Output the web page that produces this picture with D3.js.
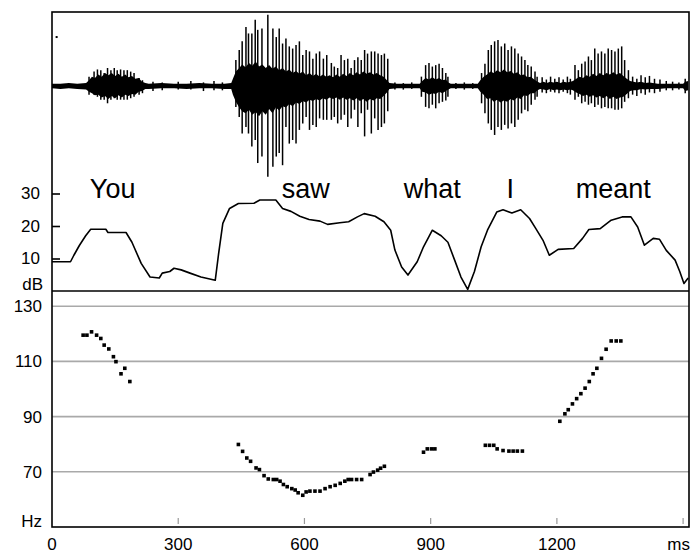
<!DOCTYPE html>
<html>
<head>
<meta charset="utf-8">
<script src="https://cdn.jsdelivr.net/npm/d3@7"></script>
<style>
  body { margin: 0; background: #fff; }
  svg { display: block; font-family: "Liberation Sans", Arial, sans-serif; }
</style>
</head>
<body>
<div id="chart"></div>
<script>
// time axis
const timeTicks = [0, 300, 600, 900, 1200];

// waveform: dense core envelope [ms, top, bottom] and single glottal spikes [ms, top, bottom]
const waveCore = [
  [0, 3, -3], [20, 3, -4], [40, 4, -3], [60, 3, -4], [81, 4, -5],
  [88, 8, -8], [95, 13, -10], [102, 11, -13], [110, 16, -12], [118, 13, -16], [126, 18, -14], [134, 15, -18],
  [142, 18, -14], [150, 14, -17], [158, 17, -13], [166, 13, -16], [174, 16, -12], [182, 12, -14], [190, 14, -11],
  [198, 10, -12], [206, 11, -8], [214, 6, -7], [222, 4, -4],
  [230, 3, -4], [260, 4, -3], [290, 3, -3], [320, 3, -4], [350, 4, -3], [380, 3, -3], [410, 3, -4], [426, 4, -4],
  [430, 10, -12], [437, 20, -22], [445, 25, -30], [452, 30, -35], [460, 26, -38], [468, 32, -33], [476, 28, -40],
  [484, 34, -36], [492, 27, -42], [500, 30, -35], [508, 25, -40], [516, 29, -32], [524, 24, -38], [532, 27, -30],
  [540, 22, -34], [548, 25, -28], [556, 20, -30], [564, 23, -25], [572, 18, -28], [580, 21, -23], [588, 17, -25],
  [596, 20, -21], [604, 15, -23], [612, 18, -19], [620, 14, -21], [628, 17, -18], [636, 13, -20], [644, 16, -17],
  [652, 13, -19], [660, 15, -16], [668, 12, -18], [676, 16, -16], [684, 13, -19], [692, 17, -16], [700, 14, -19],
  [708, 18, -17], [716, 15, -20], [724, 19, -17], [732, 16, -21], [740, 20, -18], [748, 17, -22], [756, 19, -18],
  [764, 16, -20], [772, 18, -17], [780, 15, -18], [788, 13, -14], [796, 8, -9], [802, 4, -4],
  [820, 3, -3], [850, 3, -3], [874, 3, -3],
  [880, 7, -8], [888, 11, -9], [896, 9, -12], [904, 12, -10], [912, 9, -11], [920, 11, -8], [928, 8, -10],
  [936, 9, -7], [942, 5, -5], [948, 3, -3], [970, 3, -3], [990, 3, -3], [1012, 3, -3],
  [1018, 8, -8], [1026, 13, -12], [1034, 16, -18], [1042, 20, -17], [1050, 18, -22], [1058, 22, -19], [1066, 19, -23],
  [1074, 23, -20], [1082, 19, -22], [1090, 21, -18], [1098, 17, -20], [1106, 19, -16], [1114, 15, -18], [1122, 16, -13],
  [1130, 12, -14], [1138, 13, -10], [1146, 9, -10], [1154, 6, -6], [1160, 4, -4],
  [1168, 6, -5], [1176, 4, -6], [1184, 6, -4], [1192, 5, -6], [1200, 6, -5], [1208, 4, -6], [1216, 6, -5],
  [1224, 5, -6], [1232, 6, -5],
  [1238, 7, -6], [1246, 10, -9], [1254, 13, -11], [1262, 11, -14], [1270, 15, -12], [1278, 13, -15], [1286, 17, -13],
  [1294, 14, -16], [1302, 18, -14], [1310, 15, -17], [1318, 18, -14], [1326, 16, -18], [1334, 19, -15], [1342, 16, -18],
  [1350, 18, -16], [1358, 14, -15], [1366, 10, -11], [1374, 7, -7], [1382, 6, -6],
  [1390, 5, -6], [1400, 6, -4], [1410, 4, -5], [1420, 5, -4], [1440, 3, -4], [1460, 3, -3], [1480, 3, -3],
  [1500, 3, -3], [1505, 6, -7], [1512, 7, -6]
];
const spikesYou = [
  [88, 13, -12], [100, 20, -12], [108, 23, -15], [116, 22, -19], [124, 18, -19], [132, 25, -24],
  [140, 22, -19], [148, 25, -17], [155, 22, -19], [163, 23, -19], [171, 22, -19], [179, 22, -19],
  [187, 20, -17], [195, 18, -15], [207, 11, -12], [215, 8, -10]
];
const spikesSaw = [
  [437, 36, -29], [445, 50, -43], [452, 62, -66], [461, 82, -57], [467, 73, -66], [475, 73, -84],
  [483, 92, -75], [489, 78, -107], [499, 80, -98], [513, 99, -126], [525, 80, -112], [533, 68, -98],
  [540, 80, -93], [548, 59, -110], [556, 66, -57], [564, 55, -80], [572, 52, -75], [580, 57, -80],
  [588, 62, -61], [596, 43, -52], [604, 50, -43], [612, 48, -61], [620, 38, -54], [628, 45, -57],
  [636, 48, -45], [645, 38, -47], [653, 43, -47], [664, 32, -47], [671, 27, -43], [679, 25, -52],
  [687, 43, -47], [695, 36, -40], [703, 38, -57], [711, 25, -45], [719, 36, -33], [727, 40, -57],
  [735, 36, -38], [743, 50, -70], [750, 45, -33], [759, 48, -66], [767, 48, -45], [775, 45, -61],
  [783, 43, -57], [790, 45, -52], [798, 38, -35]
];
const spikesWhat = [
  [878, 13, -15], [888, 29, -29], [896, 32, -31], [904, 27, -26], [912, 29, -31], [920, 31, -24],
  [928, 25, -22], [936, 18, -20], [941, 13, -15],
  [1021, 18, -24], [1029, 31, -38], [1037, 50, -52], [1044, 57, -61], [1052, 62, -68], [1060, 64, -57],
  [1068, 55, -61], [1076, 59, -54], [1084, 50, -59], [1092, 55, -52], [1100, 52, -57], [1108, 45, -47],
  [1116, 41, -38], [1124, 36, -33], [1131, 29, -35], [1139, 27, -26], [1148, 20, -19], [1153, 13, -15]
];
const spikesMeant = [
  [1243, 29, -19], [1251, 22, -15], [1259, 31, -24], [1267, 34, -22], [1275, 41, -26], [1282, 36, -24],
  [1290, 52, -29], [1298, 45, -26], [1306, 48, -31], [1314, 45, -29], [1322, 52, -31], [1330, 50, -31],
  [1338, 48, -33], [1346, 52, -33], [1354, 55, -31], [1361, 36, -22], [1370, 22, -17]
];
const spikesNoise = [
  [240, 6, -7], [262, 5, -6], [300, 6, -5], [330, 7, -5], [360, 5, -7], [385, 7, -6], [405, 5, -6],
  [815, 5, -5], [835, 4, -5], [855, 5, -4], [960, 4, -4], [980, 5, -5], [1000, 4, -4],
  [1165, 12, -9], [1175, 9, -10], [1185, 13, -8], [1195, 10, -9], [1205, 12, -10], [1215, 9, -8],
  [1225, 13, -10], [1232, 10, -12],
  [1380, 13, -12], [1390, 10, -14], [1400, 15, -10], [1410, 12, -12], [1420, 14, -9], [1432, 10, -10],
  [1445, 9, -8], [1460, 7, -6], [1475, 6, -6], [1490, 5, -5], [1505, 10, -10]
];

// words
const words = ["You", "saw", "what", "I", "meant"];
const wordStart = [90, 546, 836, 1080, 1245];

// intensity (dB)
const dbTicks = [10, 20, 30];
const intensity = [
  [0, 9], [44, 9], [52, 11], [65, 14], [80, 17], [92, 19], [128, 19], [133, 18], [176, 18], [190, 15],
  [212, 8.5], [233, 4.3], [255, 4], [262, 5.5], [280, 6], [290, 7], [307, 6.5], [328, 5.5], [354, 4.3],
  [388, 3.3], [396, 11.5], [406, 20.8], [422, 25.4], [443, 26.9], [480, 27], [494, 28], [532, 28],
  [548, 25.4], [568, 24.5], [589, 23], [611, 22], [637, 21.5], [655, 20.5], [684, 21], [705, 21.3],
  [726, 22.8], [742, 23.8], [768, 23], [789, 21.3], [805, 18.7], [815, 12.6], [831, 7.4], [846, 4.9],
  [868, 9], [883, 13.6], [904, 18.7], [925, 17], [941, 15], [957, 9.5], [972, 4.3], [988, 0.5],
  [1004, 6], [1020, 13.6], [1035, 18.7], [1057, 24.3], [1072, 25], [1093, 24], [1114, 25], [1135, 22.3],
  [1150, 19.2], [1167, 15.6], [1182, 11], [1203, 12.8], [1240, 13.1], [1261, 16.2], [1276, 18.9],
  [1303, 19.2], [1329, 21.8], [1355, 22.8], [1376, 22.8], [1392, 19.7], [1408, 14.1], [1429, 16.2],
  [1444, 15.9], [1460, 12.5], [1481, 9.5], [1492, 6], [1502, 2.3], [1512, 4]
];

// pitch (Hz)
const hzTicks = [70, 90, 110, 130];
const pitchMs = [
  74, 83, 94, 106, 116, 124, 135, 146, 152, 164, 173, 185,
  443, 453, 463, 472, 485, 493, 504, 514, 526, 534, 542, 550, 559, 570, 578, 585, 596, 604, 613, 625,
  637, 649, 661, 673, 685, 696, 704, 712, 724, 736, 756, 764, 774, 781, 790,
  883, 892, 902, 910,
  1030, 1040, 1050, 1058, 1072, 1086, 1096, 1106, 1118,
  1207, 1219, 1227, 1237, 1247, 1257, 1267, 1277, 1286, 1295, 1306, 1317, 1329, 1341, 1352
];
const pitchHz = [
  119.5, 119.5, 120.7, 119.5, 118.3, 115.9, 114.5, 111.7, 109.9, 105.5, 107.5, 102.7,
  79.9, 77.4, 75, 73.8, 71.4, 70.8, 68.6, 67.4, 67.2, 67.2, 66.6, 65.4, 64.6, 63.9, 63.4, 62.4, 61.5, 62.7, 63, 63,
  63, 63.9, 64.6, 65.1, 65.8, 66.6, 67.2, 67.2, 67.2, 67.2, 69, 69.9, 70.6, 71.3, 72,
  77.1, 78.3, 78.3, 78.3,
  79.6, 79.6, 79.6, 78.3, 77.7, 77.5, 77.5, 77.5, 77.5,
  88.3, 91, 92.5, 94.6, 96.5, 98.3, 100.3, 102.7, 105.5, 107.5, 111.1, 114.4, 117.4, 117.4, 117.4
];

const W = 692, H = 554;
const frame = { left: 52, right: 689, top: 12, bottom: 527 };

const svg = d3.select("#chart").append("svg")
  .attr("width", W).attr("height", H);

const x = d3.scaleLinear().domain([0, 1514]).range([frame.left, frame.right]);
const yWave = d3.scaleLinear().domain([-100, 100]).range([158, 14]);
const yDb = d3.scaleLinear().domain([0, 30]).range([291, 193.5]);
const yHz = d3.scaleLinear().domain([50, 135.5]).range([frame.bottom, 291]);

// pitch grid lines
svg.append("g")
  .selectAll("line")
  .data(hzTicks)
  .enter()
  .append("line")
  .attr("x1", frame.left).attr("x2", frame.right)
  .attr("y1", d => yHz(d)).attr("y2", d => yHz(d))
  .attr("stroke", "#a9a9a9")
  .attr("stroke-width", 1.6);

// waveform core
const coreArea = d3.area()
  .x(d => x(d[0]))
  .y0(d => yWave(d[2]))
  .y1(d => yWave(d[1]));
svg.append("path")
  .datum(waveCore)
  .attr("d", coreArea)
  .attr("fill", "#000");

// waveform spikes
const allSpikes = spikesYou.concat(spikesSaw, spikesWhat, spikesMeant, spikesNoise);
svg.append("g")
  .selectAll("line")
  .data(allSpikes)
  .enter()
  .append("line")
  .attr("x1", d => x(d[0])).attr("x2", d => x(d[0]))
  .attr("y1", d => yWave(d[1])).attr("y2", d => yWave(d[2]))
  .attr("stroke", "#000")
  .attr("stroke-width", 1.5);

// stray dot in the waveform panel
svg.append("rect")
  .attr("x", x(11) - 1).attr("y", yWave(68) - 1)
  .attr("width", 2).attr("height", 2)
  .attr("fill", "#000");

// words
svg.append("g")
  .selectAll("text")
  .data(words)
  .enter()
  .append("text")
  .text(d => d)
  .attr("x", (d, i) => x(wordStart[i]))
  .attr("y", 198)
  .attr("font-size", 27)
  .attr("fill", "#000");

// intensity curve
const dbLine = d3.line()
  .x(d => x(d[0]))
  .y(d => yDb(d[1]));
svg.append("path")
  .datum(intensity)
  .attr("d", dbLine)
  .attr("fill", "none")
  .attr("stroke", "#000")
  .attr("stroke-width", 1.6)
  .attr("stroke-linejoin", "round");

// pitch points
svg.append("g")
  .selectAll("rect")
  .data(pitchMs)
  .enter()
  .append("rect")
  .attr("x", d => x(d) - 1.8)
  .attr("y", (d, i) => yHz(pitchHz[i]) - 1.8)
  .attr("width", 3.6)
  .attr("height", 3.6)
  .attr("fill", "#000");

// frame and panel divider
const frameColor = "#000";
svg.append("rect")
  .attr("x", frame.left).attr("y", frame.top)
  .attr("width", frame.right - frame.left)
  .attr("height", frame.bottom - frame.top)
  .attr("fill", "none")
  .attr("stroke", frameColor)
  .attr("stroke-width", 1.6);
svg.append("line")
  .attr("x1", frame.left).attr("x2", frame.right)
  .attr("y1", yDb(0)).attr("y2", yDb(0))
  .attr("stroke", frameColor)
  .attr("stroke-width", 1.6);

// dB axis
const dbAxis = svg.append("g")
  .attr("transform", `translate(${frame.left},0)`)
  .call(d3.axisLeft(yDb).tickValues(dbTicks).tickSize(-8).tickPadding(12));
dbAxis.select(".domain").remove();
dbAxis.selectAll("line").attr("stroke", "#000").attr("stroke-width", 1.6);
dbAxis.selectAll("text").attr("font-size", 17).attr("font-family", "Liberation Sans, Arial, sans-serif").attr("fill", "#000");

// Hz axis labels
const hzAxis = svg.append("g")
  .attr("transform", `translate(${frame.left},0)`)
  .call(d3.axisLeft(yHz).tickValues(hzTicks).tickSize(0).tickPadding(10));
hzAxis.select(".domain").remove();
hzAxis.selectAll("text").attr("font-size", 17).attr("font-family", "Liberation Sans, Arial, sans-serif").attr("fill", "#000");

// unit labels
svg.append("text").text("dB")
  .attr("x", 43).attr("y", 290)
  .attr("text-anchor", "end").attr("font-size", 17).attr("fill", "#000");
svg.append("text").text("Hz")
  .attr("x", 42).attr("y", 527)
  .attr("text-anchor", "end").attr("font-size", 17).attr("fill", "#000");

// time axis: small inner grey ticks, labels below
svg.append("g")
  .selectAll("line")
  .data(timeTicks.slice(1).concat([1500]))
  .enter()
  .append("line")
  .attr("x1", d => x(d)).attr("x2", d => x(d))
  .attr("y1", frame.bottom - 9).attr("y2", frame.bottom - 3)
  .attr("stroke", "#999")
  .attr("stroke-width", 1.2);
svg.append("g")
  .selectAll("text")
  .data(timeTicks)
  .enter()
  .append("text")
  .text(d => d)
  .attr("x", d => x(d))
  .attr("y", 550)
  .attr("text-anchor", "middle")
  .attr("font-size", 17)
  .attr("fill", "#000");
svg.append("text").text("ms")
  .attr("x", 690).attr("y", 550)
  .attr("text-anchor", "end").attr("font-size", 17).attr("fill", "#000");
</script>
</body>
</html>
